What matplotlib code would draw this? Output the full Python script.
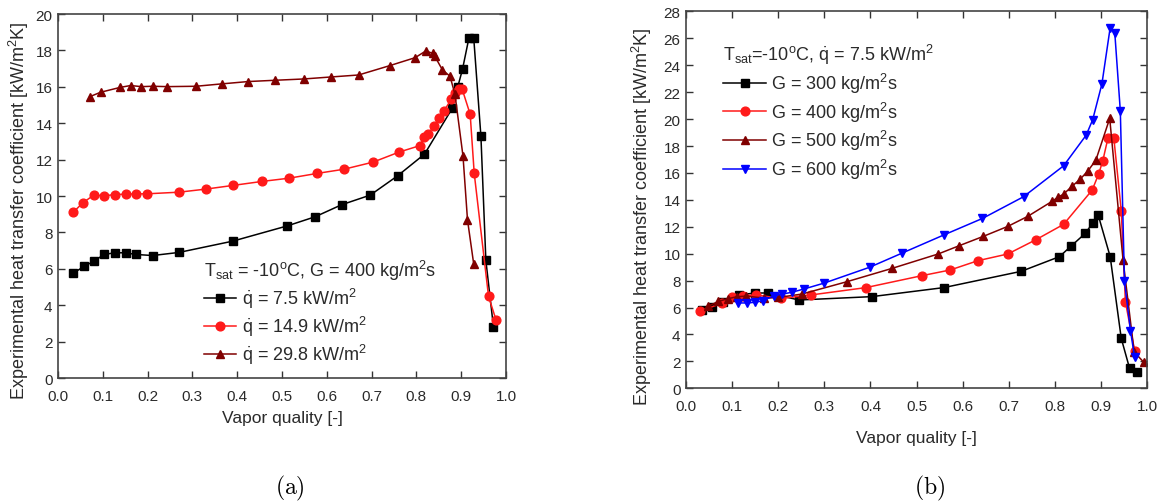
import matplotlib
matplotlib.use("Agg")
import matplotlib.pyplot as plt

plt.rcParams['font.family'] = ['Liberation Sans', 'DejaVu Sans']
plt.rcParams['mathtext.fontset'] = 'custom'
plt.rcParams['mathtext.rm'] = 'Liberation Sans'
plt.rcParams['mathtext.it'] = 'Liberation Sans:italic'
plt.rcParams['mathtext.default'] = 'regular'

# ---------------- (a) data ----------------
a_x_q75 = [0.034, 0.058, 0.080, 0.103, 0.127, 0.151, 0.173, 0.211, 0.270, 0.390, 0.512, 0.574,
           0.633, 0.697, 0.758, 0.818, 0.880, 0.892, 0.903, 0.917, 0.928, 0.944, 0.955, 0.972]
a_y_q75 = [5.76, 6.13, 6.42, 6.79, 6.88, 6.88, 6.79, 6.73, 6.90, 7.52, 8.36, 8.86,
           9.52, 10.05, 11.11, 12.30, 14.82, 15.97, 16.98, 18.66, 18.66, 13.27, 6.46, 2.80]

a_x_q149 = [0.034, 0.056, 0.080, 0.103, 0.127, 0.151, 0.175, 0.198, 0.270, 0.330, 0.390, 0.455,
            0.516, 0.578, 0.638, 0.703, 0.762, 0.808, 0.817, 0.826, 0.839, 0.851, 0.862, 0.878,
            0.886, 0.895, 0.902, 0.920, 0.929, 0.961, 0.978]
a_y_q149 = [9.11, 9.64, 10.05, 10.01, 10.08, 10.10, 10.12, 10.12, 10.21, 10.38, 10.58, 10.80,
            10.98, 11.24, 11.47, 11.86, 12.42, 12.77, 13.25, 13.43, 13.82, 14.29, 14.69, 15.33,
            15.66, 15.88, 15.88, 14.49, 11.25, 4.48, 3.17]

a_x_q298 = [0.071, 0.095, 0.139, 0.162, 0.186, 0.211, 0.244, 0.308, 0.365, 0.425, 0.485, 0.548,
            0.609, 0.671, 0.740, 0.797, 0.821, 0.836, 0.841, 0.858, 0.875, 0.886, 0.904, 0.914, 0.928]
a_y_q298 = [15.46, 15.70, 15.97, 16.07, 16.01, 16.03, 16.01, 16.03, 16.16, 16.29, 16.36, 16.43,
            16.54, 16.65, 17.16, 17.60, 17.97, 17.84, 17.68, 16.93, 16.58, 15.59, 12.19, 8.69, 6.24]

a_labels = [r'$\dot{q}$ = 7.5 kW/m$^{2}$', r'$\dot{q}$ = 14.9 kW/m$^{2}$', r'$\dot{q}$ = 29.8 kW/m$^{2}$']
a_title = r'T$_{sat}$ = -10$^{o}$C, G = 400 kg/m$^{2}$s'

# ---------------- (b) data ----------------
b_x_g300 = [0.035, 0.057, 0.080, 0.114, 0.149, 0.178, 0.245, 0.403, 0.559, 0.727, 0.810, 0.836,
            0.866, 0.882, 0.894, 0.920, 0.944, 0.962, 0.978]
b_y_g300 = [5.80, 6.01, 6.40, 6.93, 7.08, 7.08, 6.56, 6.81, 7.48, 8.69, 9.78, 10.59,
            11.51, 12.28, 12.87, 9.78, 3.71, 1.49, 1.24]

b_x_g400 = [0.030, 0.079, 0.100, 0.124, 0.152, 0.207, 0.270, 0.390, 0.512, 0.573, 0.633, 0.698,
            0.759, 0.819, 0.881, 0.895, 0.904, 0.915, 0.928, 0.944, 0.953, 0.973]
b_y_g400 = [5.72, 6.34, 6.76, 6.88, 6.93, 6.68, 6.93, 7.48, 8.37, 8.79, 9.48, 9.98,
            11.04, 12.18, 14.73, 15.92, 16.91, 18.56, 18.56, 13.19, 6.44, 2.80]

b_x_g500 = [0.048, 0.070, 0.090, 0.110, 0.130, 0.170, 0.200, 0.251, 0.349, 0.447, 0.547, 0.593,
            0.645, 0.698, 0.741, 0.794, 0.806, 0.819, 0.837, 0.855, 0.872, 0.889, 0.919, 0.948,
            0.972, 0.993]
b_y_g500 = [6.10, 6.45, 6.65, 6.80, 6.85, 6.70, 6.75, 7.00, 7.92, 8.91, 9.98, 10.60,
            11.29, 12.03, 12.77, 13.89, 14.18, 14.43, 15.00, 15.54, 16.16, 16.96, 20.05, 9.50,
            2.70, 1.93]

b_x_g600 = [0.113, 0.132, 0.150, 0.167, 0.191, 0.209, 0.229, 0.256, 0.300, 0.398, 0.469, 0.559,
            0.643, 0.732, 0.819, 0.868, 0.882, 0.902, 0.920, 0.930, 0.942, 0.951, 0.964, 0.973]
b_y_g600 = [6.34, 6.34, 6.39, 6.51, 6.88, 7.00, 7.13, 7.38, 7.82, 8.99, 10.05, 11.39,
            12.62, 14.23, 16.53, 18.81, 19.95, 22.60, 26.80, 26.40, 20.60, 7.95, 4.28, 2.30]

b_labels = [r'G = 300 kg/m$^{2}$s', r'G = 400 kg/m$^{2}$s', r'G = 500 kg/m$^{2}$s', r'G = 600 kg/m$^{2}$s']
b_title = r'T$_{sat}$=-10$^{o}$C, $\dot{q}$ = 7.5 kW/m$^{2}$'

x_ticks = [0.0, 0.1, 0.2, 0.3, 0.4, 0.5, 0.6, 0.7, 0.8, 0.9, 1.0]
a_yticks = list(range(0, 21, 2))
b_yticks = list(range(0, 29, 2))

xlabel = 'Vapor quality [-]'
ylabel = r'Experimental heat transfer coefficient [kW/m$^{2}$K]'

BLACK = '#000000'
RED = '#ff1a1a'
DRED = '#800000'
BLUE = '#0000ff'
TXT = '#2a2a2a'

fig = plt.figure(figsize=(11.63, 5.02), dpi=100)
axA = fig.add_axes([0.0499, 0.245, 0.3852, 0.7251])
axB = fig.add_axes([0.5899, 0.2245, 0.3964, 0.7508])

ms = 5.5
lw = 1.1

def style(ax, yticks, ylim):
    ax.set_xlim(0, 1)
    ax.set_ylim(*ylim)
    ax.set_xticks(x_ticks)
    ax.set_xticklabels(['%.1f' % v for v in x_ticks])
    ax.set_yticks(yticks)
    ax.tick_params(direction='in', top=True, right=True, length=5, width=1.0,
                   labelsize=11, colors='#333333', labelcolor=TXT, pad=4)
    ax.tick_params(axis='x', pad=8)
    for s in ax.spines.values():
        s.set_linewidth(1.2)
        s.set_color('#444444')

hA1, = axA.plot(a_x_q75, a_y_q75, '-s', color=BLACK, lw=lw, ms=ms)
hA2, = axA.plot(a_x_q149, a_y_q149, '-o', color=RED, lw=lw, ms=ms + 0.8)
hA3, = axA.plot(a_x_q298, a_y_q298, '-^', color=DRED, lw=lw, ms=ms + 0.8)
style(axA, a_yticks, (0, 20))
axA.set_xlabel(xlabel, fontsize=12.5, color=TXT)
axA.set_ylabel(ylabel, fontsize=13, color=TXT)
axA.xaxis.set_label_coords(0.5, -0.087)
axA.yaxis.set_label_coords(-0.06, 0.462)
legA = axA.legend([hA1, hA2, hA3], a_labels, title=a_title, loc='upper left',
                  bbox_to_anchor=(0.325, 0.33), frameon=False, fontsize=13,
                  title_fontsize=13, handlelength=1.8, handletextpad=0.35,
                  labelspacing=0.22, borderpad=0, borderaxespad=0, alignment='left')
for t in legA.get_texts():
    t.set_color(TXT)
legA.get_title().set_color(TXT)

hB1, = axB.plot(b_x_g300, b_y_g300, '-s', color=BLACK, lw=lw, ms=ms)
hB2, = axB.plot(b_x_g400, b_y_g400, '-o', color=RED, lw=lw, ms=ms + 0.8)
hB3, = axB.plot(b_x_g500, b_y_g500, '-^', color=DRED, lw=lw, ms=ms + 0.8)
hB4, = axB.plot(b_x_g600, b_y_g600, '-v', color=BLUE, lw=lw, ms=ms + 0.8)
style(axB, b_yticks, (0, 28))
axB.set_xlabel(xlabel, fontsize=12.5, color=TXT)
axB.set_ylabel(ylabel, fontsize=13, color=TXT)
axB.xaxis.set_label_coords(0.5, -0.11)
axB.yaxis.set_label_coords(-0.069, 0.457)
legB = axB.legend([hB1, hB2, hB3, hB4], b_labels, title=b_title, loc='upper left',
                  bbox_to_anchor=(0.08, 0.918), frameon=False, fontsize=13,
                  title_fontsize=13, handlelength=2.4, handletextpad=0.25,
                  labelspacing=0.25, borderpad=0, borderaxespad=0, alignment='left')
for t in legB.get_texts():
    t.set_color(TXT)
legB.get_title().set_color(TXT)

fig.text(290 / 1163, 1 - 488 / 502, r'$\mathrm{(a)}$', fontsize=17, ha='center', va='center',
         math_fontfamily='cm')
fig.text(930 / 1163, 1 - 488 / 502, r'$\mathrm{(b)}$', fontsize=17, ha='center', va='center',
         math_fontfamily='cm')

fig.savefig('out.png', dpi=100)
